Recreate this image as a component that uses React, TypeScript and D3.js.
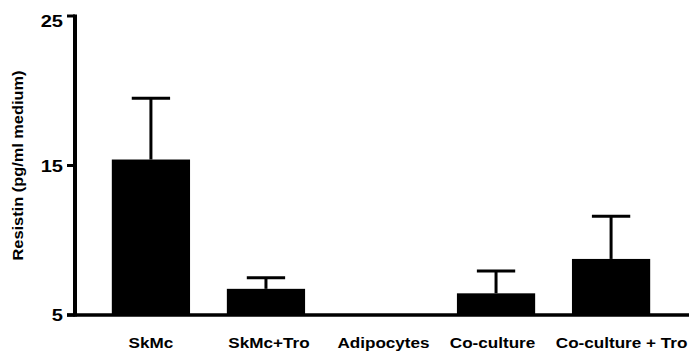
import * as d3 from "d3";

const categories = ["SkMc", "SkMc+Tro", "Adipocytes", "Co-culture", "Co-culture + Tro"];
const means = [15.4, 6.75, 5, 6.45, 8.75];
const errors = [4.1, 0.75, 0, 1.5, 2.85];
const yTicks = [5, 15, 25];

// the category labels are not quite centred under the bars in the original
const labelShift = [0, 3, 2.5, -3.5, 10.5];

const width = 689;
const height = 351;

const App = () => {
  const x = d3
    .scaleBand<string>()
    .domain(categories)
    .range([75, 687])
    .paddingInner(0.32)
    .paddingOuter(0.32);

  const y = d3.scaleLinear().domain([5, 25]).range([315, 16]);

  const font = "'Liberation Sans', Arial, sans-serif";
  const stretch = 1.18; // the original type is wider than Arial
  const bw = x.bandwidth();
  const capW = bw * 0.49;

  return (
    <svg width={width} height={height} style={{ position: "absolute", left: 0, top: 0 }}>
      <rect width={width} height={height} fill="#fff" />
      {categories.map((c, i) => {
        const x0 = x(c) ?? 0;
        const cx = x0 + bw / 2;
        const top = y(means[i]);
        const errTop = y(means[i] + errors[i]);
        return (
          <g key={c}>
            {errors[i] > 0 && (
              <g stroke="#000" strokeWidth={3}>
                <line x1={cx} x2={cx} y1={top} y2={errTop} />
                <line x1={cx - capW / 2} x2={cx + capW / 2} y1={errTop} y2={errTop} />
              </g>
            )}
            <rect x={x0} y={top} width={bw} height={y(5) - top} fill="#000" />
            <text
              transform={`translate(${cx + labelShift[i]},348) scale(${stretch},1)`}
              textAnchor="middle"
              fontFamily={font}
              fontWeight="bold"
              fontSize={14.5}
            >
              {c}
            </text>
          </g>
        );
      })}
      {/* axes */}
      <line x1={75} x2={75} y1={y(25) - 1.5} y2={y(5) + 1.5} stroke="#000" strokeWidth={4} />
      <line x1={67} x2={width} y1={y(5)} y2={y(5)} stroke="#000" strokeWidth={3.5} />
      {yTicks.map((t) => (
        <g key={t}>
          <line x1={67} x2={75} y1={y(t)} y2={y(t)} stroke="#000" strokeWidth={3} />
          <text
            transform={`translate(63,${y(t) + (t === 25 ? 11 : 6)}) scale(${stretch},1)`}
            textAnchor="end"
            fontFamily={font}
            fontWeight="bold"
            fontSize={17}
          >
            {t}
          </text>
        </g>
      ))}
      <text
        transform={`translate(23,${(y(25) + y(5)) / 2}) rotate(-90) scale(1.17,1)`}
        textAnchor="middle"
        fontFamily={font}
        fontWeight="bold"
        fontSize={14}
      >
        Resistin (pg/ml medium)
      </text>
    </svg>
  );
};

export default App;
